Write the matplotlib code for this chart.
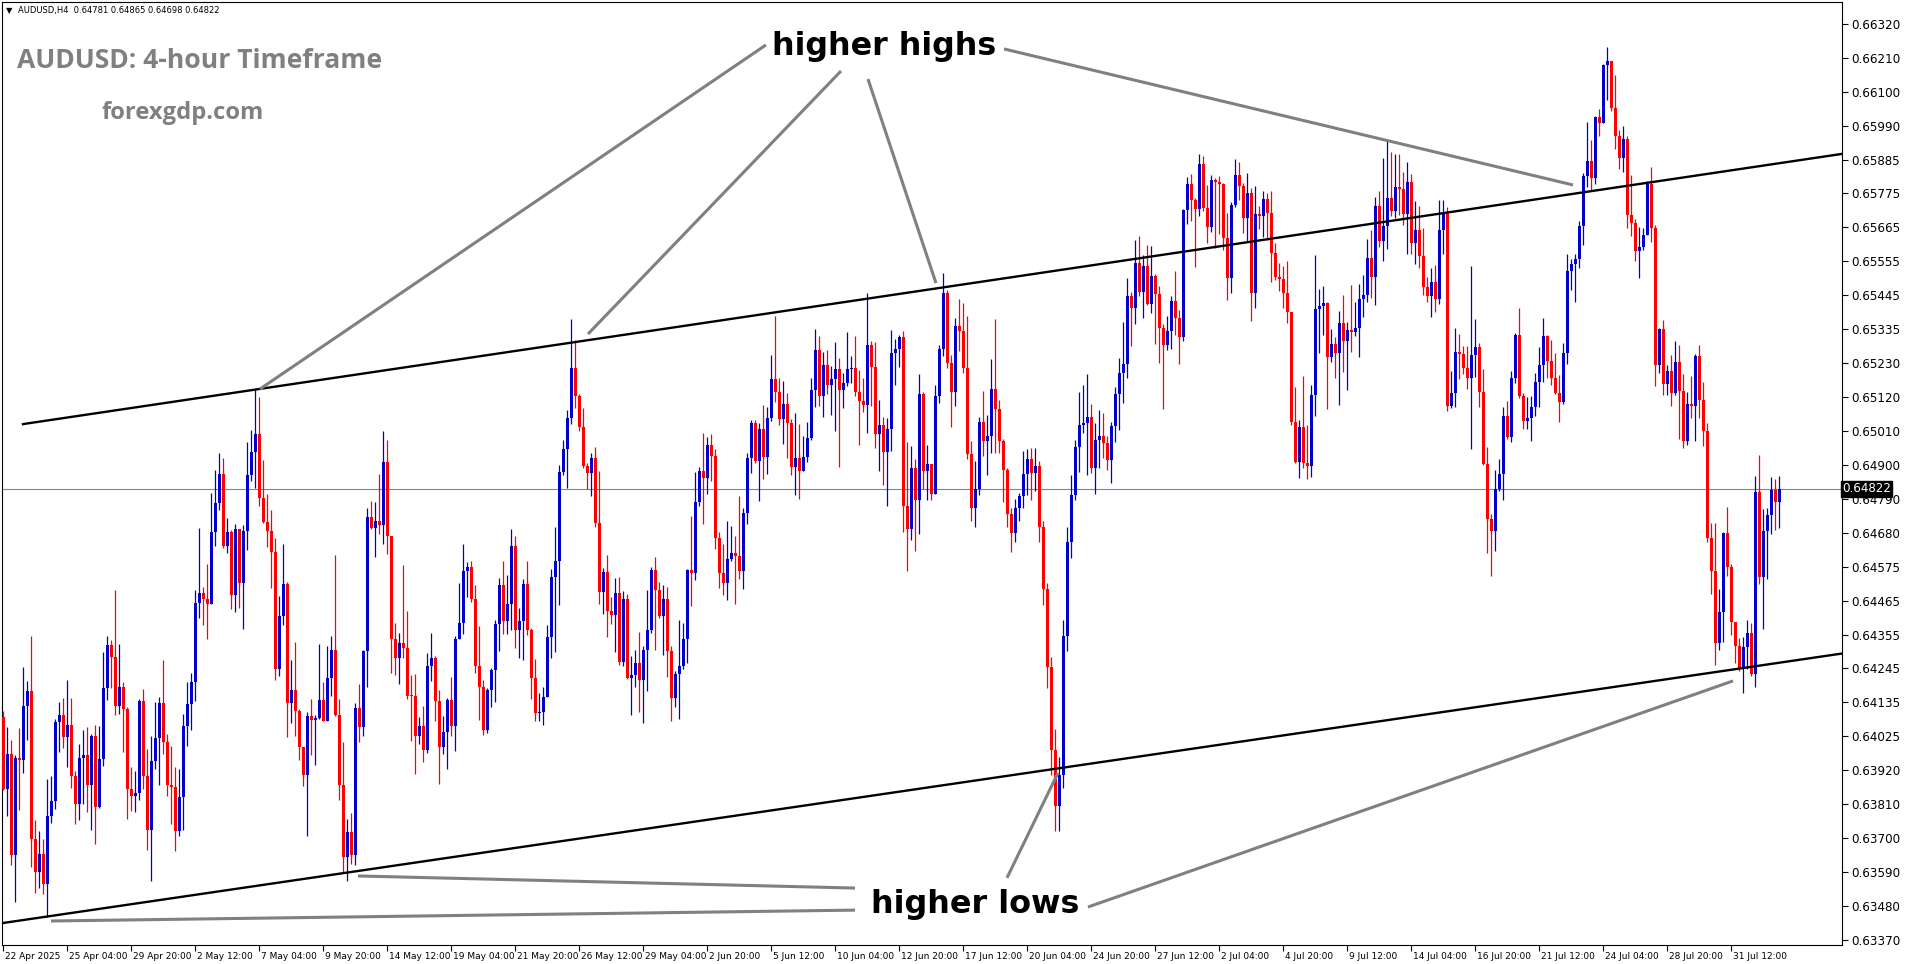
import numpy as np
import matplotlib
matplotlib.use('Agg')
import matplotlib.pyplot as plt
from matplotlib import transforms, font_manager

# AUDUSD H4, prices in points (1 point = 0.00001)
first_open = 64089

close_pts = [
    63857, 63970, 63644, 63957, 63948, 64122, 64173, 63694, 63590, 63646,
    63550, 63769, 63817, 64072, 64095, 64023, 64061, 63898, 63809, 63955,
    63966, 63869, 64026, 63797, 63953, 64180, 64320, 64280, 64122, 64185,
    64114, 63857, 63832, 63844, 64139, 63898, 63725, 63947, 64020, 64132,
    64007, 63869, 63863, 63721, 63829, 64060, 64129, 64201, 64456, 64486,
    64468, 64451, 64684, 64778, 64869, 64637, 64684, 64481, 64692, 64518,
    64686, 64867, 64941, 64998, 64792, 64716, 64686, 64619, 64241, 64414,
    64515, 64133, 64175, 64107, 63990, 63901, 64092, 64077, 64086, 64142,
    64076, 64215, 64303, 64094, 63869, 63638, 63718, 63642, 64118, 64056,
    64300, 64733, 64698, 64720, 64706, 64909, 64670, 64339, 64277, 64327,
    64310, 64157, 64155, 64028, 64059, 63981, 64253, 64277, 64139, 63990,
    64040, 64143, 64059, 64339, 64392, 64557, 64572, 64467, 64251, 64184,
    64047, 64176, 64240, 64388, 64514, 64396, 64452, 64639, 64369, 64398,
    64517, 64369, 64215, 64100, 64103, 64152, 64347, 64540, 64589, 64878,
    64951, 65052, 65211, 65120, 65023, 64895, 64873, 64921, 64714, 64489,
    64554, 64428, 64415, 64487, 64264, 64467, 64215, 64224, 64261, 64206,
    64304, 64369, 64560, 64498, 64412, 64467, 64299, 64149, 64227, 64251,
    64340, 64562, 64551, 64779, 64879, 64857, 64965, 64927, 64664, 64552,
    64520, 64596, 64617, 64605, 64559, 64745, 64922, 65035, 64912, 65015,
    64926, 65050, 65176, 65135, 65047, 65096, 65035, 64892, 64922, 64881,
    64926, 64986, 65141, 65269, 65121, 65220, 65158, 65176, 65208, 65141,
    65162, 65208, 65213, 65135, 65105, 65094, 65285, 65214, 64999, 65029,
    64942, 65015, 65261, 65273, 65313, 64768, 64693, 64891, 64786, 65127,
    64881, 64903, 64806, 65122, 65273, 65452, 65229, 65133, 65347, 65332,
    65213, 64934, 64760, 64822, 65039, 64975, 64993, 65144, 65079, 64975,
    64884, 64740, 64680, 64760, 64800, 64871, 64919, 64873, 64897, 64700,
    64500, 64250, 63980, 63800, 63900, 64350, 64650, 64803, 64957, 65029,
    65034, 65053, 64889, 64980, 64993, 64970, 64914, 65025, 65128, 65197,
    65225, 65444, 65404, 65551, 65455, 65540, 65418, 65508, 65450, 65342,
    65286, 65331, 65428, 65374, 65313, 65720, 65804, 65753, 65723, 65869,
    65728, 65667, 65817, 65812, 65803, 65631, 65503, 65737, 65833, 65798,
    65696, 65776, 65454, 65708, 65701, 65756, 65710, 65581, 65506, 65498,
    65452, 65393, 65039, 64908, 65023, 64905, 64896, 65125, 65402, 65411,
    65420, 65248, 65288, 65261, 65358, 65300, 65334, 65326, 65342, 65434,
    65447, 65567, 65506, 65733, 65620, 65670, 65760, 65718, 65793, 65787,
    65708, 65810, 65613, 65656, 65572, 65471, 65444, 65488, 65434, 65656,
    65710, 65089, 65132, 65264, 65258, 65212, 65178, 65254, 65279, 65135,
    64903, 64725, 64687, 64822, 64871, 65058, 64988, 65181, 65319, 65120,
    65041, 65052, 65086, 65168, 65222, 65316, 65235, 65178, 65132, 65103,
    65260, 65524, 65547, 65564, 65670, 65831, 65877, 65825, 66021, 66001,
    66188, 66201, 66050, 65960, 65889, 65950, 65704, 65677, 65589, 65602,
    65640, 65805, 65661, 65221, 65336, 65161, 65201, 65130, 65232, 65137,
    64976, 65096, 65090, 65250, 65108, 65009, 64665, 64559, 64326, 64427,
    64680, 64571, 64394, 64316, 64246, 64312, 64357, 64226, 64812, 64538,
    64686, 64738, 64818, 64781, 64822,
]

high_pts = [
    64107, 64057, 64013, 63965, 64051, 64248, 64204, 64348, 63757, 63722,
    63694, 63888, 63898, 64082, 64135, 64148, 64208, 64148, 63913, 64001,
    64045, 64057, 64032, 64061, 64060, 64298, 64348, 64335, 64498, 64323,
    64201, 64120, 63926, 63913, 64145, 64179, 63986, 64026, 64135, 64151,
    64270, 64032, 63995, 63926, 63919, 64097, 64199, 64230, 64498, 64696,
    64508, 64579, 64809, 64884, 64937, 64922, 64728, 64690, 64708, 64694,
    64706, 64974, 65013, 65142, 65118, 64915, 64805, 64754, 64664, 64479,
    64644, 64524, 64271, 64330, 64112, 63990, 64104, 64145, 64095, 64324,
    64199, 64315, 64348, 64611, 64145, 64008, 63760, 63778, 64133, 64193,
    64305, 64762, 64784, 64780, 64869, 65010, 64980, 64670, 64390, 64357,
    64577, 64428, 64223, 64225, 64088, 64122, 64294, 64358, 64283, 64175,
    64092, 64150, 64217, 64348, 64518, 64646, 64587, 64589, 64514, 64382,
    64208, 64181, 64245, 64401, 64537, 64591, 64546, 64693, 64671, 64438,
    64532, 64589, 64376, 64274, 64165, 64186, 64385, 64564, 64701, 64898,
    64980, 65077, 65370, 65302, 65127, 65084, 64905, 64937, 64956, 64881,
    64569, 64610, 64473, 64537, 64540, 64494, 64485, 64285, 64304, 64360,
    64315, 64498, 64570, 64602, 64524, 64514, 64508, 64315, 64237, 64401,
    64390, 64564, 64734, 64878, 64892, 65002, 64991, 65000, 64951, 64684,
    64645, 64719, 64704, 64670, 64799, 64760, 64938, 65043, 65043, 65033,
    65091, 65086, 65255, 65378, 65179, 65170, 65132, 65047, 65067, 65032,
    64994, 65038, 65179, 65337, 65316, 65262, 65269, 65217, 65295, 65244,
    65197, 65328, 65249, 65314, 65205, 65179, 65454, 65299, 65295, 65108,
    65053, 65050, 65334, 65305, 65319, 65331, 64973, 64959, 64918, 65191,
    65135, 64964, 64903, 65157, 65286, 65519, 65463, 65254, 65372, 65434,
    65422, 65379, 64975, 64911, 65055, 65136, 65061, 65241, 65370, 65109,
    64984, 64890, 64760, 64790, 64808, 64943, 64950, 64953, 64953, 64911,
    64720, 64520, 64280, 64050, 63960, 64400, 64700, 64868, 64980, 65133,
    65157, 65193, 65096, 65036, 65077, 65068, 64993, 65039, 65152, 65243,
    65361, 65501, 65455, 65624, 65637, 65576, 65608, 65605, 65515, 65476,
    65354, 65379, 65444, 65524, 65399, 65724, 65828, 65836, 65758, 65901,
    65894, 65801, 65833, 65825, 65830, 65806, 65712, 65747, 65885, 65876,
    65806, 65841, 65790, 65798, 65733, 65782, 65774, 65782, 65615, 65551,
    65541, 65556, 65393, 65152, 65045, 65186, 65028, 65157, 65576, 65466,
    65476, 65425, 65337, 65313, 65395, 65447, 65361, 65479, 65423, 65482,
    65511, 65628, 65656, 65763, 65780, 65888, 65946, 65906, 65900, 65900,
    65843, 65875, 65837, 65748, 65733, 65662, 65506, 65534, 65544, 65753,
    65753, 65731, 65202, 65342, 65322, 65282, 65282, 65541, 65368, 65293,
    65210, 64957, 64742, 64882, 64919, 65086, 65104, 65201, 65323, 65406,
    65132, 65118, 65120, 65196, 65279, 65374, 65319, 65302, 65260, 65189,
    65291, 65578, 65564, 65580, 65684, 65839, 66004, 65946, 66024, 66046,
    66190, 66245, 66197, 66156, 65978, 65990, 65960, 65834, 65692, 65667,
    65661, 65813, 65858, 65673, 65340, 65365, 65221, 65254, 65299, 65285,
    65192, 65134, 65186, 65258, 65285, 65167, 65035, 64711, 64711, 64499,
    64685, 64763, 64581, 64394, 64341, 64344, 64399, 64392, 64863, 64931,
    64757, 64760, 64861, 64853, 64865,
]

low_pts = [
    63854, 63769, 63612, 63493, 63788, 63907, 64013, 63606, 63521, 63537,
    63518, 63443, 63747, 63790, 63976, 63988, 63926, 63859, 63744, 63757,
    63807, 63782, 63725, 63678, 63794, 63930, 64141, 64180, 64095, 64097,
    63976, 63760, 63785, 63783, 63819, 63857, 63660, 63559, 63919, 63869,
    63970, 63832, 63744, 63656, 63706, 63725, 63995, 64047, 64139, 64408,
    64383, 64339, 64451, 64640, 64753, 64631, 64615, 64436, 64426, 64438,
    64372, 64625, 64847, 64825, 64766, 64712, 64635, 64503, 64207, 64219,
    64384, 64023, 64068, 64026, 63949, 63867, 63706, 63966, 63933, 64083,
    64074, 64100, 64157, 64090, 63821, 63585, 63561, 63614, 63611, 64008,
    64028, 64184, 64694, 64602, 64676, 64644, 64613, 64231, 64223, 64193,
    64277, 64145, 64012, 63904, 64002, 63943, 63972, 64205, 64074, 63873,
    63969, 63922, 64026, 63978, 64342, 64354, 64473, 64457, 64229, 64079,
    64030, 64035, 64120, 64135, 64299, 64355, 64355, 64369, 64310, 64278,
    64272, 64353, 64146, 64074, 64074, 64063, 64154, 64278, 64297, 64449,
    64868, 64825, 65032, 65082, 65010, 64889, 64823, 64798, 64701, 64452,
    64419, 64347, 64388, 64296, 64256, 64253, 64211, 64095, 64186, 64104,
    64070, 64170, 64358, 64302, 64406, 64286, 64216, 64074, 64120, 64081,
    64242, 64261, 64444, 64528, 64768, 64710, 64807, 64848, 64629, 64502,
    64481, 64465, 64590, 64452, 64532, 64500, 64710, 64874, 64906, 64783,
    64854, 64871, 65041, 65103, 65029, 64967, 64922, 64868, 64803, 64789,
    64881, 64909, 64980, 65086, 65090, 65055, 65129, 65061, 65009, 64892,
    65082, 65155, 65164, 65121, 64965, 65070, 65002, 65090, 64953, 64881,
    64836, 64768, 64944, 65158, 65214, 64682, 64557, 64658, 64623, 64678,
    64821, 64787, 64787, 64806, 65100, 65249, 65213, 65023, 65090, 65265,
    65195, 64918, 64720, 64700, 64803, 64929, 64868, 64937, 64937, 64937,
    64780, 64700, 64620, 64650, 64720, 64760, 64803, 64787, 64814, 64650,
    64450, 64180, 63900, 63720, 63720, 63860, 64300, 64600, 64787, 64878,
    65002, 64868, 64875, 64806, 64889, 64921, 64882, 64841, 64972, 65012,
    65098, 65179, 65284, 65353, 65442, 65374, 65415, 65390, 65289, 65227,
    65079, 65270, 65272, 65318, 65224, 65300, 65674, 65686, 65536, 65702,
    65718, 65613, 65651, 65597, 65643, 65590, 65429, 65452, 65731, 65751,
    65645, 65619, 65364, 65404, 65658, 65635, 65624, 65487, 65495, 65458,
    65404, 65356, 65028, 64905, 64857, 64889, 64854, 64860, 65058, 65261,
    65318, 65079, 65232, 65179, 65091, 65198, 65141, 65264, 65316, 65248,
    65377, 65425, 65438, 65415, 65600, 65557, 65595, 65702, 65695, 65705,
    65673, 65578, 65578, 65547, 65535, 65448, 65423, 65377, 65391, 65419,
    65580, 65074, 65083, 65086, 65176, 65193, 65143, 64951, 65184, 65086,
    64900, 64616, 64543, 64621, 64817, 64785, 64982, 64972, 65162, 65116,
    65015, 65015, 64978, 65058, 65087, 65166, 65181, 65158, 65128, 65038,
    65097, 65225, 65463, 65425, 65535, 65609, 65794, 65785, 65805, 65958,
    66001, 66073, 66038, 65917, 65854, 65842, 65661, 65636, 65556, 65501,
    65591, 65679, 65618, 65153, 65196, 65124, 65124, 65090, 65124, 64982,
    64954, 64964, 65050, 64976, 65050, 64960, 64652, 64483, 64254, 64304,
    64328, 64542, 64353, 64263, 64236, 64164, 64244, 64221, 64186, 64516,
    64371, 64532, 64676, 64690, 64698,
]

xtick_labels = [
    "22 Apr 2025", "25 Apr 04:00", "29 Apr 20:00", "2 May 12:00", "7 May 04:00",
    "9 May 20:00", "14 May 12:00", "19 May 04:00", "21 May 20:00", "26 May 12:00",
    "29 May 04:00", "2 Jun 20:00", "5 Jun 12:00", "10 Jun 04:00", "12 Jun 20:00",
    "17 Jun 12:00", "20 Jun 04:00", "24 Jun 20:00", "27 Jun 12:00", "2 Jul 04:00",
    "4 Jul 20:00", "9 Jul 12:00", "14 Jul 04:00", "16 Jul 20:00", "21 Jul 12:00",
    "24 Jul 04:00", "28 Jul 20:00", "31 Jul 12:00",
]
ytick_labels = [
    "0.66320", "0.66210", "0.66100", "0.65990", "0.65885", "0.65775", "0.65665",
    "0.65555", "0.65445", "0.65335", "0.65230", "0.65120", "0.65010", "0.64900",
    "0.64790", "0.64680", "0.64575", "0.64465", "0.64355", "0.64245", "0.64135",
    "0.64025", "0.63920", "0.63810", "0.63700", "0.63590", "0.63480", "0.63370",
]
last_price = 0.64822

# channel lines: (bar index, price) anchors
upper_channel = [(5, 0.65031), (466, 0.65913)]
lower_channel = [(0.25, 0.63425), (466, 0.64304)]

closes = np.array(close_pts) / 1e5
highs = np.array(high_pts) / 1e5
lows = np.array(low_pts) / 1e5
opens = np.concatenate([[first_open / 1e5], closes[:-1]])

# canvas geometry (pixels)
W, H = 1916, 964
PL, PR, PT, PB = 2, 1842, 2, 945
STEP, X0 = 4.0, 3
PPX = 0.0000322            # price per pixel
REF_Y = 489                # pixel row of the last price

fig = plt.figure(figsize=(W / 100, H / 100), dpi=100)
fig.patch.set_facecolor('white')
ax = fig.add_axes([PL / W, 1 - PB / H, (PR - PL) / W, (PB - PT) / H])
ax.set_xlim((PL - X0) / STEP, (PR - X0) / STEP)
ax.set_ylim(last_price - (PB - REF_Y) * PPX, last_price + (REF_Y - PT) * PPX)

# candles
x = np.arange(len(closes))
up = closes >= opens
col = np.where(up, '#0000cd', '#ff0000')
hi = np.maximum(highs, np.maximum(opens, closes))
lo = np.minimum(lows, np.minimum(opens, closes))
ax.vlines(x, lo, hi, colors=col, linewidth=0.9, zorder=3)
body = np.maximum(np.abs(closes - opens), PPX)
ax.bar(x, body, bottom=np.minimum(opens, closes), width=0.75, color=col,
       linewidth=0, antialiased=False, zorder=4)

# last price line
ax.axhline(last_price, color='#778899', linewidth=0.8, zorder=2)

# channel
for (xa, ya), (xb, yb) in [upper_channel, lower_channel]:
    k = (yb - ya) / (xb - xa)
    xs = np.array([xa, 500])
    ax.plot(xs, ya + k * (xs - xa), color='black', linewidth=1.7, zorder=5)

# annotation pointers (bar index, price)
pointers = [
    ((190.75, 0.66252), (64.25, 0.65144)),
    ((209.5, 0.66168), (146.25, 0.65321)),
    ((216.25, 0.66142), (233.25, 0.65485)),
    ((250.25, 0.66239), (392.5, 0.65801)),
    ((213.0, 0.63537), (88.75, 0.63576)),
    ((213.0, 0.63466), (12.0, 0.63431)),
    ((251.0, 0.63570), (263.75, 0.63908)),
    ((271.25, 0.63476), (432.5, 0.64204)),
]
for (xa, ya), (xb, yb) in pointers:
    ax.plot([xa, xb], [ya, yb], color='#808080', linewidth=2.2,
            solid_capstyle='butt', zorder=6)

# axis fonts: narrow face for the time scale if present
try:
    font_manager.findfont('Liberation Sans Narrow', fallback_to_default=False)
    xfont, xsize = 'Liberation Sans Narrow', 8.3
except Exception:
    xfont, xsize = 'DejaVu Sans', 6.5

# axes styling
for s in ax.spines.values():
    s.set_color('black')
    s.set_linewidth(0.8)
ax.yaxis.tick_right()
ax.set_yticks(np.linspace(0.63370, 0.66320, 28))
ax.set_yticklabels(ytick_labels[::-1])
ax.tick_params(axis='y', direction='out', length=4, width=0.8, pad=3,
               labelsize=8.6, colors='black')
ax.set_xticks(np.arange(0, 16 * len(xtick_labels), 16))
ax.set_xticklabels(xtick_labels, ha='left', family=xfont, fontsize=xsize)
ax.tick_params(axis='x', direction='out', length=4, width=0.8, pad=1,
               colors='black')
shift = transforms.ScaledTranslation(2 / 100, 0, fig.dpi_scale_trans)
for lbl in ax.get_xticklabels():
    lbl.set_transform(lbl.get_transform() + shift)

ax.text(1.0, last_price, '0.64822', transform=transforms.blended_transform_factory(
            ax.transAxes, ax.transData),
        ha='left', va='center', fontsize=8.6, color='white', zorder=10,
        bbox=dict(boxstyle='square,pad=0.1', fc='black', ec='black'),
        clip_on=False)

# texts
renderer = fig.canvas.get_renderer()


def fit_text(s, x0, yc, width, **kw):
    t = fig.text(x0 / W, 1 - yc / H, s, ha='left', va='center', **kw)
    bb = t.get_window_extent(renderer)
    t.set_fontsize(t.get_fontsize() * width / bb.width)
    return t


fig.text(6 / W, 1 - 11 / H, '\u25bc', fontsize=6, ha='left', va='center')
fit_text('AUDUSD,H4  0.64781 0.64865 0.64698 0.64822', 18, 11, 202,
         fontsize=7.5, color='black')
fit_text('AUDUSD: 4-hour Timeframe', 17, 61, 365, fontsize=20,
         family='Open Sans', fontweight='bold', color='#808080')
fit_text('forexgdp.com', 101, 113, 162, fontsize=16,
         family='Open Sans', fontweight='bold', color='#808080')
fit_text('higher highs', 772, 46, 224, fontsize=22,
         family='DejaVu Sans', fontweight='bold', color='black')
fit_text('higher lows', 871, 904, 208, fontsize=22,
         family='DejaVu Sans', fontweight='bold', color='black')

fig.savefig('out.png', dpi=100, facecolor='white')
